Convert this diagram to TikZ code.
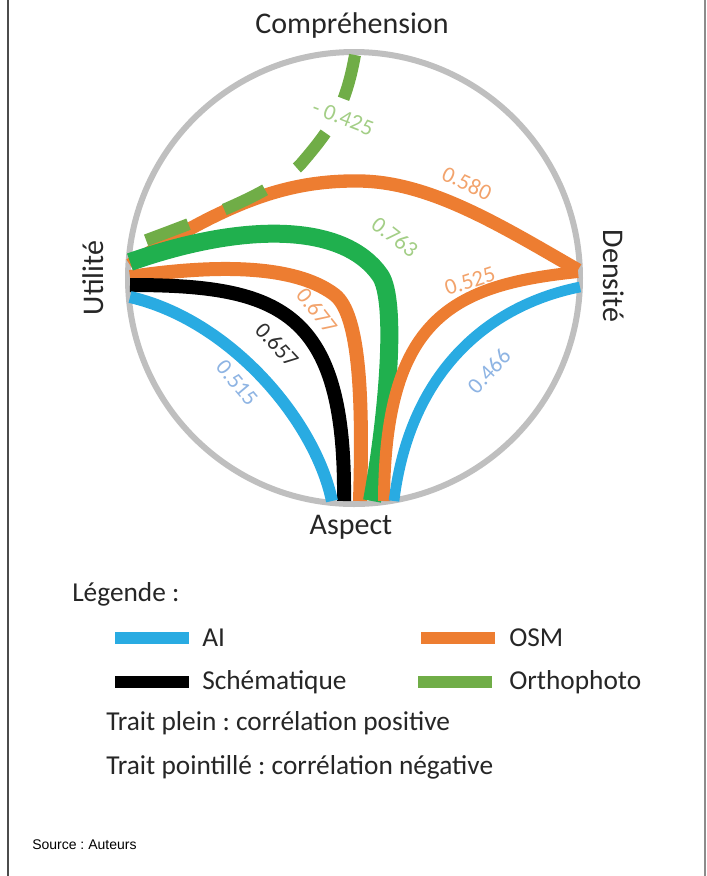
\documentclass[tikz,border=0pt]{standalone}
\usepackage{fontspec}
\setmainfont{Carlito}
\newfontfamily\srcfont{Liberation Sans}
\definecolor{aiblue}{HTML}{29ABE2}
\definecolor{osmorange}{HTML}{ED7D31}
\definecolor{orthogreen}{HTML}{70AD47}
\definecolor{solidgreen}{HTML}{20B04E}
\definecolor{circlegray}{HTML}{BFBFBF}
\definecolor{lblblue}{HTML}{8EB4E3}
\definecolor{lblorange}{HTML}{F2A36C}
\definecolor{lblgreen}{HTML}{A3CE86}
\definecolor{lblblack}{HTML}{303030}
\begin{document}
\frenchspacing
\begin{tikzpicture}[x=0.75pt,y=-0.75pt,
  rib/.style={line width=#1, line cap=butt},
  val/.style={font=\fontsize{17}{17}\selectfont, inner sep=0pt},
  axis/.style={font=\fontsize{22.5}{22.5}\selectfont, text=black!85, inner sep=0pt},
  legtext/.style={font=\fontsize{20.5}{20.5}\selectfont, text=black!85, anchor=west, inner sep=0pt},
  legbar/.style={minimum width=55.5pt, minimum height=9pt, inner sep=0pt, anchor=west}]
\useasboundingbox (0,0) rectangle (707,876);
% side rules
\draw[line width=1.2pt, black!70] (8,0) -- (8,876);
\draw[line width=1.5pt, black!45] (705,0) -- (705,876);
% circle
\node[circle, draw=circlegray, line width=4.5pt, minimum size=339pt, inner sep=0pt] (ring) at (354,278) {};
% axis labels
\node[axis] (comp) at (352,25) {Compréhension};
\node[axis, rotate=90] (util) at (93,278) {Utilité};
\node[axis, rotate=-90] (dens) at (614,276) {Densité};
\node[axis] (asp) at (351,527) {Aspect};
% end points
\coordinate (c1) at (355,55);
\coordinate (u1) at (130,297);
\coordinate (u2) at (130,285);
\coordinate (u3) at (130,277);
\coordinate (u4) at (130,262);
\coordinate (u5) at (130,265);
\coordinate (u6) at (136,244);
\coordinate (a1) at (332,501);
\coordinate (a2) at (344,501);
\coordinate (a3) at (360,501);
\coordinate (a4) at (372,501);
\coordinate (a5) at (384,501);
\coordinate (a6) at (394,501);
\coordinate (d1) at (578,270);
\coordinate (d2) at (578,272);
\coordinate (d3) at (580,287);
% ribbons
\draw[rib=10pt, osmorange] (u5) .. controls (230,200) and (290,180) .. (360,181)
   .. controls (430,182) and (500,225) .. (d1);
\draw[rib=9pt, orthogreen, dash pattern=on 34pt off 29pt] (c1) .. controls (345,110) and (330,130) .. (300,165)
   .. controls (270,195) and (200,220) .. (u6);
\draw[rib=10.5pt, osmorange] (u3) .. controls (230,262) and (300,268) .. (335,295)
   .. controls (360,315) and (363,400) .. (a3);
\draw[rib=10.5pt, black] (u2) .. controls (280,285) and (346,310) .. (a2);
\draw[rib=9pt, aiblue] (u1) .. controls (230,320) and (315,420) .. (a1);
\draw[rib=13.5pt, solidgreen] (u4) .. controls (250,220) and (345,225) .. (380,275)
   .. controls (398,300) and (387,420) .. (a4);
\draw[rib=9pt, osmorange] (d2) .. controls (450,285) and (385,320) .. (a5);
\draw[rib=8pt, aiblue] (d3) .. controls (490,305) and (410,370) .. (a6);
% values
\node[val, text=lblgreen, rotate=-21] (v1) at (343,118) {- 0.425};
\node[val, text=lblorange, rotate=-25] (v2) at (467,183) {0.580};
\node[val, text=lblgreen, rotate=-38] (v3) at (395,237) {0.763};
\node[val, text=lblorange, rotate=-52] (v4) at (317,311) {0.677};
\node[val, text=lblblack, rotate=-47] (v5) at (277,345) {0.657};
\node[val, text=lblblue, rotate=-50] (v6) at (237,383) {0.515};
\node[val, text=lblorange, rotate=18] (v7) at (470,281) {0.525};
\node[val, text=lblblue, rotate=47] (v8) at (489,371) {0.466};
% legend
\node[legtext] (leg) at (72,594) {Légende :};
\node[legbar, fill=aiblue] (b1) at (115,638) {};
\node[legtext] (t1) at (202,638) {AI};
\node[legbar, fill=osmorange] (b2) at (421,638) {};
\node[legtext] (t2) at (509,638) {OSM};
\node[legbar, fill=black] (b3) at (115,682) {};
\node[legtext] (t3) at (202,682) {Schématique};
\node[legbar, fill=orthogreen] (b4) at (418,682) {};
\node[legtext] (t4) at (509,682) {Orthophoto};
\node[legtext] (t5) at (106,723) {Trait plein : corrélation positive};
\node[legtext] (t6) at (106,767) {Trait pointillé : corrélation négative};
\node[anchor=west, inner sep=0pt, font=\srcfont\fontsize{10.5}{10.5}\selectfont] (src) at (32,845) {Source : Auteurs};
\end{tikzpicture}
\end{document}
